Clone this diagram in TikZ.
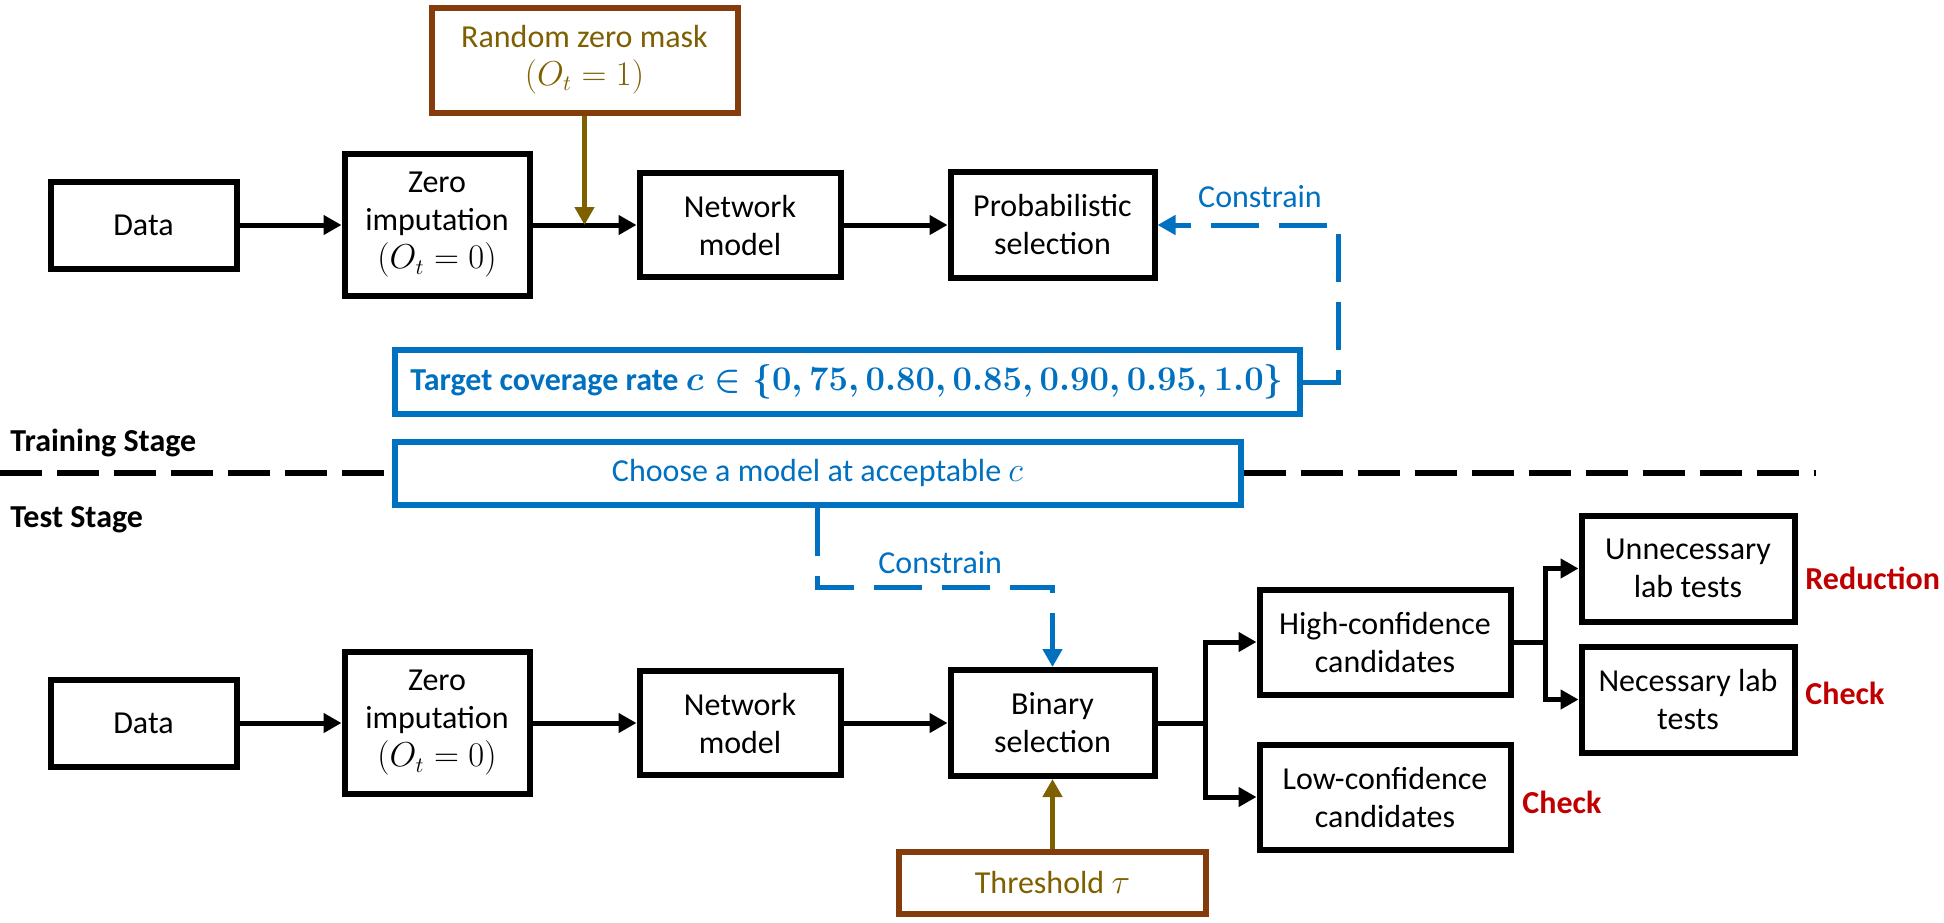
\documentclass[tikz,border=0pt]{standalone}
\usepackage{fontspec}
\setmainfont{Carlito}
\usetikzlibrary{arrows.meta,calc}
\definecolor{cblue}{RGB}{0,112,192}
\definecolor{cbrown}{RGB}{132,60,12}
\definecolor{colive}{RGB}{127,96,0}
\definecolor{cred}{RGB}{192,0,0}
\begin{document}
\begin{tikzpicture}[x=0.5pt,y=-0.5pt,
  box/.style={draw=black, line width=3pt, fill=white, align=center, inner sep=0pt, font=\fontsize{16}{19}\selectfont},
  brownbox/.style={box, draw=cbrown, text=colive},
  bluebox/.style={box, draw=cblue, text=cblue},
  arr/.style={line width=2.5pt, -{Triangle[length=9pt,width=9.5pt]}},
  plain/.style={line width=2.5pt},
  olivearr/.style={draw=colive, line width=2.5pt, -{Triangle[length=9pt,width=9.5pt]}},
  bluedash/.style={draw=cblue, line width=2.5pt, dash pattern=on 24pt off 10pt},
  bluetip/.style={-{Triangle[length=9pt,width=9.5pt]}},
  stagedash/.style={draw=black, line width=3pt, dash pattern=on 21pt off 7.5pt},
  lbl/.style={font=\fontsize{16}{19}\selectfont, inner sep=0pt},
  redlbl/.style={font=\fontsize{16}{19}\selectfont\bfseries, text=cred, inner sep=0pt, anchor=west},
  stagelbl/.style={font=\fontsize{16}{19}\selectfont\bfseries, inner sep=0pt, anchor=west}
]
\useasboundingbox (0,0) rectangle (1944,922);

% stage divider
\coordinate (dl) at (0,473);
\coordinate (dr) at (1816,473);

% ---------- training stage ----------
\node[box, minimum width=93pt, minimum height=43.5pt] (data1) at (143.5,225) {Data};
\node[box, minimum width=92.5pt, minimum height=71pt] (zero1) at (437,225) {Zero\\imputation\\$(O_t = 0)$};
\node[box, minimum width=100.5pt, minimum height=52pt] (net1) at (740,225) {Network\\model};
\node[box, minimum width=102pt, minimum height=53pt] (prob1) at (1052.5,225) {Probabilistic\\selection};
\node[brownbox, minimum width=153pt, minimum height=52.5pt] (mask) at (584.5,60) {Random zero mask\\$(O_t = 1)$};
\node[bluebox, minimum width=452.5pt, minimum height=32pt, font=\fontsize{16}{19}\selectfont\bfseries] (target) at (847,382)
  {Target coverage rate {\boldmath$c \in \{0,75, 0.80, 0.85, 0.90, 0.95, 1.0\}$}};
\node[lbl, text=cblue] (con1) at (1260,197) {Constrain};

\coordinate (j1) at ($(zero1.east)!0.5!(net1.west)$);
\draw[arr] (data1) -- (zero1);
\draw[arr] (zero1) -- (net1);
\draw[arr] (net1) -- (prob1);
\draw[olivearr] (mask.south) -- (mask.south |- j1);
\coordinate (c1) at (1338,225);
\draw[bluedash, bluetip] (target.east) -| (c1) -- (prob1.east);

% ---------- divider & labels ----------
\node[stagelbl] (train) at (10,443) {Training Stage};
\node[stagelbl] (test) at (10,520) {Test Stage};
\node[bluebox, minimum width=423pt, minimum height=31.5pt] (choose) at (817.5,473) {Choose a model at acceptable $c$};
\draw[stagedash] (dl) -- (choose.west);
\draw[stagedash] (choose.east) -- (dr);

% ---------- test stage ----------
\node[box, minimum width=93pt, minimum height=43.5pt] (data2) at (143.5,723) {Data};
\node[box, minimum width=92.5pt, minimum height=71pt] (zero2) at (437,723) {Zero\\imputation\\$(O_t = 0)$};
\node[box, minimum width=100.5pt, minimum height=52pt] (net2) at (740,723) {Network\\model};
\node[box, minimum width=102pt, minimum height=53pt] (bin) at (1052.5,723) {Binary\\selection};
\node[brownbox, minimum width=153.5pt, minimum height=31pt] (thr) at (1052.5,882.5) {Threshold $\tau$};
\node[box, minimum width=125.5pt, minimum height=52.5pt] (high) at (1385,642) {High-confidence\\candidates};
\node[box, minimum width=125.5pt, minimum height=52.5pt] (low) at (1385,797) {Low-confidence\\candidates};
\node[box, minimum width=106.5pt, minimum height=53pt] (unn) at (1688,568.5) {Unnecessary\\lab tests};
\node[box, minimum width=106.5pt, minimum height=53pt] (nec) at (1688,699.5) {Necessary lab\\tests};
\node[lbl, text=cblue, anchor=west] (con2) at (878,563) {Constrain};
\node[redlbl] (red1) at (1805,578) {Reduction};
\node[redlbl] (chk1) at (1805,693) {Check};
\node[redlbl] (chk2) at (1522,802) {Check};

\draw[arr] (data2) -- (zero2);
\draw[arr] (zero2) -- (net2);
\draw[arr] (net2) -- (bin);
\draw[olivearr] (thr.north) -- (bin.south);
\coordinate (c2) at (817.5,587);
\draw[bluedash, bluetip] (choose.south) -- (c2) -| (bin.north);

\coordinate (b1) at (1205,723);
\draw[plain] (bin.east) -- (b1);
\draw[arr] (b1) |- (high.west);
\draw[arr] (b1) |- (low.west);
\coordinate (b2) at (1545,642);
\draw[plain] (high.east) -- (b2);
\draw[arr] (b2) |- (unn.west);
\draw[arr] (b2) |- (nec.west);
\end{tikzpicture}
\end{document}
